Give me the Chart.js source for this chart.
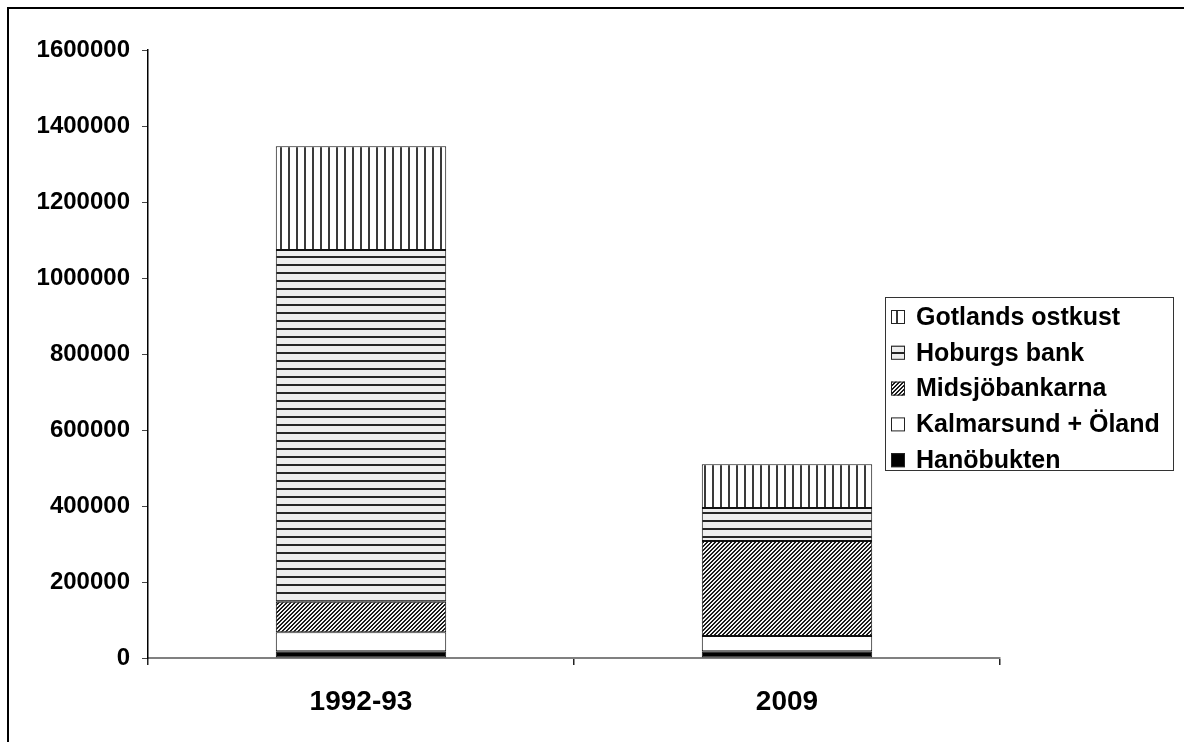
<!DOCTYPE html>
<html>
<head>
<meta charset="utf-8">
<script src="https://cdn.jsdelivr.net/npm/chart.js@4.4.1/dist/chart.umd.min.js"></script>
<style>
  body { margin: 0; background: #fff; }
  #chart { display: block; }
</style>
</head>
<body>
<canvas id="chart" width="1184" height="742"></canvas>
<script>
// data
const periods = ['1992-93', '2009'];
const hanobukten = [18000, 18000];
const kalmarsund = [50000, 40000];
const midsjobankarna = [80000, 250000];
const hoburgsBank = [926000, 87000];
const gotlandsOstkust = [273000, 115000];
const yTicks = [0, 200000, 400000, 600000, 800000, 1000000, 1200000, 1400000, 1600000];

const FONT = "'Liberation Sans', Arial, sans-serif";

// fill patterns
function makePattern(size, draw) {
    const c = document.createElement('canvas');
    c.width = size;
    c.height = size;
    const g = c.getContext('2d');
    draw(g, size);
    return g.createPattern(c, 'repeat');
}

const ctxMain = document.getElementById('chart').getContext('2d');

const vertPattern = makePattern(8, function(g, s) {
    g.fillStyle = '#ffffff';
    g.fillRect(0, 0, s, s);
    g.fillStyle = '#3a3a3a';
    g.fillRect(0, 0, 2, s);
});
const horizPattern = makePattern(8, function(g, s) {
    g.fillStyle = '#eeeeee';
    g.fillRect(0, 0, s, s);
    g.fillStyle = '#262626';
    g.fillRect(0, 0, s, 2);
});
const diagPattern = makePattern(4, function(g, s) {
    for (let x = 0; x < s; x++) {
        for (let y = 0; y < s; y++) {
            g.fillStyle = ((x + y) % 4 < 2) ? '#1a1a1a' : '#f4f4f4';
            g.fillRect(x, y, 1, 1);
        }
    }
});

// outer frame of the picture
const framePlugin = {
    id: 'frame',
    beforeDraw(chart) {
        const c = chart.ctx;
        c.save();
        c.fillStyle = '#fff';
        c.fillRect(0, 0, chart.width, chart.height);
        c.strokeStyle = '#000';
        c.lineWidth = 2;
        c.strokeRect(8, 8, chart.width + 20, chart.height + 20);
        c.restore();
    }
};

// boxed legend drawn over the right side of the plot
const boxLegend = {
    id: 'boxLegend',
    afterDraw(chart) {
        const c = chart.ctx;
        const sets = chart.data.datasets.slice().reverse();
        const left = 885, top = 297, w = 288, h = 173;
        c.save();
        c.fillStyle = '#fff';
        c.fillRect(left, top, w, h);
        c.strokeStyle = '#333';
        c.lineWidth = 1;
        c.strokeRect(left + 0.5, top + 0.5, w, h);
        c.font = 'bold 25px ' + FONT;
        c.textBaseline = 'middle';
        sets.forEach(function(ds, i) {
            const y = top + 20 + i * 35.8;
            c.fillStyle = ds.backgroundColor;
            c.fillRect(891, y - 7, 14, 14);
            c.strokeStyle = '#222';
            c.strokeRect(891.5, y - 6.5, 13, 13);
            c.fillStyle = '#000';
            c.fillText(ds.label, 916, y + 1);
        });
        c.restore();
    }
};

function segment(label, values, fill) {
    return {
        label: label,
        data: values,
        backgroundColor: fill,
        borderColor: '#111',
        borderWidth: 1,
        borderSkipped: false,
        barPercentage: 0.8,
        categoryPercentage: 0.5
    };
}

new Chart(ctxMain, {
    type: 'bar',
    data: {
        labels: periods,
        datasets: [
            segment('Hanöbukten', hanobukten, '#000000'),
            segment('Kalmarsund + Öland', kalmarsund, '#ffffff'),
            segment('Midsjöbankarna', midsjobankarna, diagPattern),
            segment('Hoburgs bank', hoburgsBank, horizPattern),
            segment('Gotlands ostkust', gotlandsOstkust, vertPattern)
        ]
    },
    options: {
        responsive: false,
        animation: false,
        layout: {
            padding: { left: 0, top: 50, right: 184, bottom: 0 }
        },
        plugins: {
            legend: { display: false },
            tooltip: { enabled: false }
        },
        scales: {
            x: {
                stacked: true,
                afterFit: function(scale) { scale.height = 742 - 658; },
                grid: {
                    drawOnChartArea: false,
                    color: '#222',
                    tickLength: 7,
                    lineWidth: 1.5
                },
                border: { color: '#808080', width: 2 },
                ticks: {
                    color: '#000',
                    padding: 20,
                    font: { family: FONT, size: 28, weight: 'bold' }
                }
            },
            y: {
                stacked: true,
                min: 0,
                max: 1600000,
                afterFit: function(scale) { scale.width = 148; },
                afterBuildTicks: function(scale) {
                    scale.ticks = yTicks.map(v => ({ value: v }));
                },
                grid: {
                    drawOnChartArea: false,
                    color: '#444',
                    tickLength: 6
                },
                border: { color: '#000', width: 1.5 },
                ticks: {
                    color: '#000',
                    padding: 12,
                    callback: (val) => String(val),
                    font: { family: FONT, size: 24, weight: 'bold' }
                }
            }
        }
    },
    plugins: [framePlugin, boxLegend]
});
</script>
</body>
</html>
